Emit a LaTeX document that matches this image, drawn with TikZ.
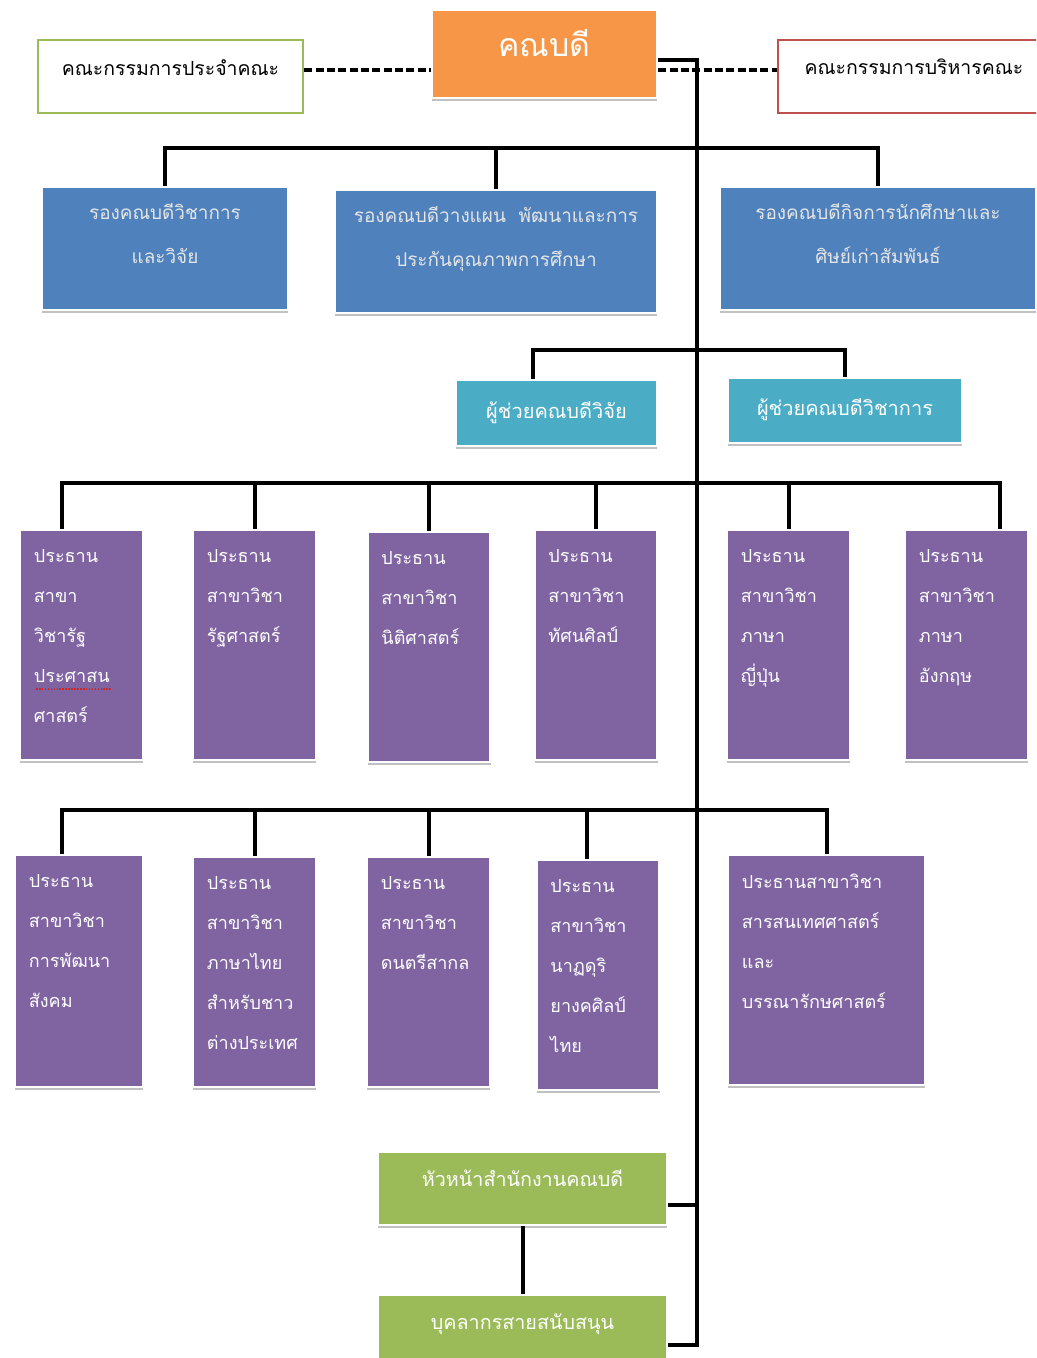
\documentclass[tikz,border=0pt]{standalone}
\usepackage{fontspec}
\setmainfont[Script=Thai]{Loma}
\usetikzlibrary{shadows}

\definecolor{deanorange}{RGB}{247,150,70}
\definecolor{boardgreen}{RGB}{155,187,89}
\definecolor{execred}{RGB}{192,80,77}
\definecolor{vpblue}{RGB}{79,129,189}
\definecolor{asteal}{RGB}{75,172,198}
\definecolor{chairpurple}{RGB}{128,100,162}
\definecolor{officegreen}{RGB}{155,187,89}
\definecolor{spellred}{RGB}{200,40,40}

\tikzset{every picture/.style={line width=0.75pt}}
\tikzset{
  shadowed/.style={draw=white, line width=1.8pt,
    drop shadow={shadow xshift=0pt, shadow yshift=-2.5pt, opacity=0.35, fill=black!70}},
  deanbox/.style={shadowed, fill=deanorange, text=white, minimum width=168.75pt, minimum height=66pt,
    text depth=17pt, font=\fontsize{24}{28}\selectfont},
  boardbox/.style={rectangle, fill=white, line width=2.2pt, minimum width=198.75pt, minimum height=54.75pt,
    text depth=14pt, font=\fontsize{14.6}{17}\selectfont},
  vpbox/.style={shadowed, fill=vpblue, minimum height=92.25pt},
  vptext/.style={anchor=north, inner ysep=12.5pt, align=center, text=white!90!black,
    font=\fontsize{14.2}{33}\selectfont},
  asbox/.style={shadowed, fill=asteal, text=white, minimum height=49.5pt,
    text depth=5pt, font=\fontsize{15}{18}\selectfont},
  chairbox/.style={shadowed, fill=chairpurple, minimum width=92.25pt, minimum height=172.5pt},
  chairtext/.style={anchor=north west, inner xsep=11pt, inner ysep=15pt, align=left, text=white,
    font=\fontsize{13.5}{30}\selectfont},
  officebox/.style={shadowed, fill=officegreen, text=white, minimum width=216.75pt, minimum height=54.75pt,
    text depth=16pt, font=\fontsize{14.8}{17}\selectfont},
  link/.style={draw=black, line width=3pt},
  dashlink/.style={draw=black, line width=2.8pt, dash pattern=on 6pt off 2.5pt}
}

\begin{document}
\begin{tikzpicture}[x=0.75pt,y=0.75pt,yscale=-1,xscale=1]
\clip (0,0) rectangle (1036,1358);
\useasboundingbox (0,0) rectangle (1036,1358);

% top row
\node[deanbox] (dean) at (544.5,54) {คณบดี};
\node[boardbox, draw=boardgreen] (board) at (170.5,76.5) {คณะกรรมการประจำคณะ};
\node[boardbox, draw=execred, minimum width=204pt] (exec) at (914,76.5) {คณะกรรมการบริหารคณะ};

% vice deans
\node[vpbox, minimum width=184.5pt] (vpacad) at (165,248.5) {};
\node[vptext] (vpacadt) at (vpacad.north) {รองคณบดีวิชาการ\\และวิจัย};
\node[vpbox, minimum width=241.5pt] (vpplan) at (496,251.5) {};
\node[vptext] (vpplant) at (vpplan.north) {รองคณบดีวางแผน~~พัฒนาและการ\\ประกันคุณภาพการศึกษา};
\node[vpbox, minimum width=237pt] (vpstud) at (878,248.5) {};
\node[vptext] (vpstudt) at (vpstud.north) {รองคณบดีกิจการนักศึกษาและ\\ศิษย์เก่าสัมพันธ์};

% assistant deans
\node[asbox, minimum width=150.75pt] (asres) at (556.5,413) {ผู้ช่วยคณบดีวิจัย};
\node[asbox, minimum width=175.5pt, minimum height=48.75pt] (asacad) at (845,410.5) {ผู้ช่วยคณบดีวิชาการ};

% program chairs, first row
\node[chairbox] (c1) at (81.5,645) {};
\node[chairtext] (c1t) at (c1.north west) {ประธาน\\สาขา\\วิชารัฐ\\ประศาสน\\ศาสตร์};
\draw[spellred, densely dotted, line width=1.2pt] (36,689) -- (112,689);
\node[chairbox] (c2) at (254.5,645) {};
\node[chairtext] (c2t) at (c2.north west) {ประธาน\\สาขาวิชา\\รัฐศาสตร์};
\node[chairbox] (c3) at (429,647) {};
\node[chairtext] (c3t) at (c3.north west) {ประธาน\\สาขาวิชา\\นิติศาสตร์};
\node[chairbox] (c4) at (596,645) {};
\node[chairtext] (c4t) at (c4.north west) {ประธาน\\สาขาวิชา\\ทัศนศิลป์};
\node[chairbox] (c5) at (788.5,645) {};
\node[chairtext] (c5t) at (c5.north west) {ประธาน\\สาขาวิชา\\ภาษา\\ญี่ปุ่น};
\node[chairbox] (c6) at (966.5,645) {};
\node[chairtext] (c6t) at (c6.north west) {ประธาน\\สาขาวิชา\\ภาษา\\อังกฤษ};

% program chairs, second row
\node[chairbox, minimum width=96pt, minimum height=174pt] (d1) at (79,971) {};
\node[chairtext] (d1t) at (d1.north west) {ประธาน\\สาขาวิชา\\การพัฒนา\\สังคม};
\node[chairbox] (d2) at (254.5,972) {};
\node[chairtext] (d2t) at (d2.north west) {ประธาน\\สาขาวิชา\\ภาษาไทย\\สำหรับชาว\\ต่างประเทศ};
\node[chairbox] (d3) at (428.5,972) {};
\node[chairtext] (d3t) at (d3.north west) {ประธาน\\สาขาวิชา\\ดนตรีสากล};
\node[chairbox] (d4) at (598,975) {};
\node[chairtext] (d4t) at (d4.north west) {ประธาน\\สาขาวิชา\\นาฏดุริ\\ยางคศิลป์\\ไทย};
\node[chairbox, minimum width=147.75pt] (d5) at (826.5,970) {};
\node[chairtext] (d5t) at (d5.north west) {ประธานสาขาวิชา\\สารสนเทศศาสตร์\\และ\\บรรณารักษศาสตร์};

% office
\node[officebox] (office) at (522.5,1188.5) {หัวหน้าสำนักงานคณบดี};
\node[officebox, minimum height=52.5pt, text depth=12pt] (staff) at (522.5,1330) {บุคลากรสายสนับสนุน};

% connectors
\coordinate (spinetop) at (697,60);
\coordinate (spinebot) at (697,1345);
\coordinate (bus1) at (697,148);
\coordinate (bus2) at (697,350);
\coordinate (bus3) at (697,483);
\coordinate (bus4) at (697,810);

\draw[dashlink] (board.east |- 0,70) -- (dean.west |- 0,70);
\draw[dashlink] (dean.east |- 0,70) -- (exec.west |- 0,70);
\draw[link] (dean.east |- spinetop) -- (spinetop) -- (spinebot) -- (spinebot -| staff.east);

\draw[link] (vpacad.north) |- (bus1) -| (vpstud.north);
\draw[link] (vpplan.north) -- (vpplan.north |- bus1);

\draw[link] ([xshift=-18]asres.north) |- (bus2) -| (asacad.north);

\draw[link] ([xshift=-14.5]c1.north) |- (bus3) -| ([xshift=25]c6.north);
\draw[link] (c2.north) -- (c2.north |- bus3);
\draw[link] (c3.north) -- (c3.north |- bus3);
\draw[link] (c4.north) -- (c4.north |- bus3);
\draw[link] (c5.north) -- (c5.north |- bus3);

\draw[link] ([xshift=-12.75]d1.north) |- (bus4) -| (d5.north);
\draw[link] (d2.north) -- (d2.north |- bus4);
\draw[link] (d3.north) -- (d3.north |- bus4);
\draw[link] ([xshift=-8]d4.north) -- ([xshift=-8]d4.north |- bus4);

\draw[link] ([yshift=12]office.east) -- ([yshift=12]office.east -| spinetop);
\draw[link] (office) -- (staff);

\end{tikzpicture}
\end{document}
